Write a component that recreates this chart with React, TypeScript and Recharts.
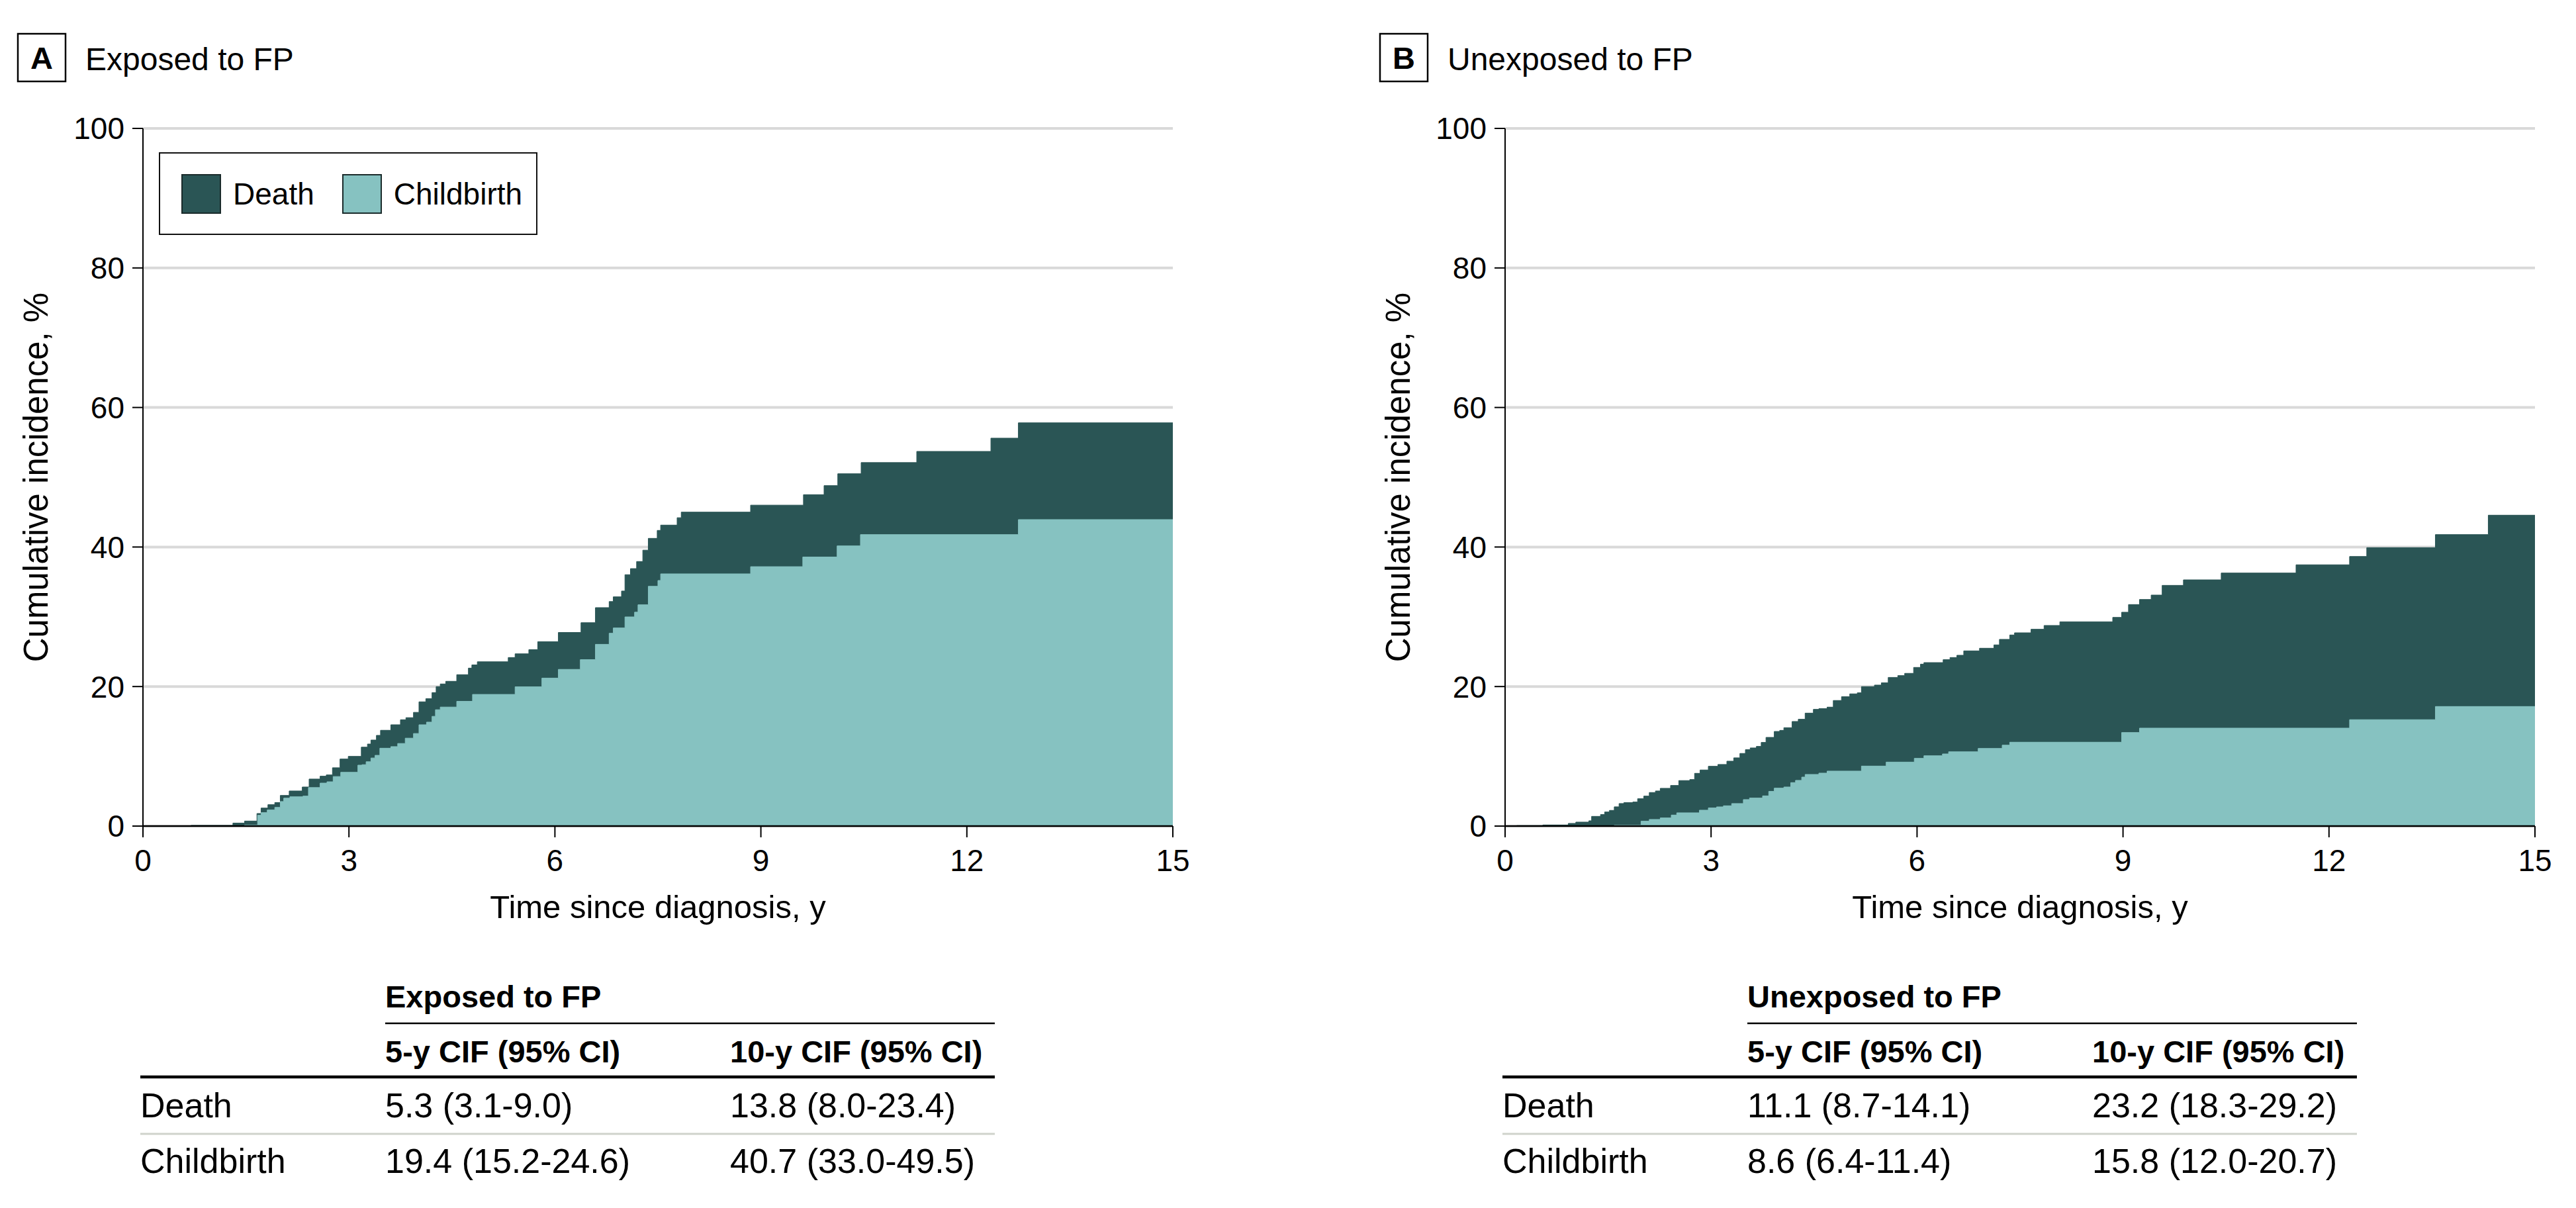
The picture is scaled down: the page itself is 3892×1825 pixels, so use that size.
import { Area, CartesianGrid, ComposedChart, XAxis, YAxis } from "recharts";

// Stacked cumulative incidence.
// "StackTop" is the upper edge of the dark band (childbirth + death), [years, %].
const exposedStackTop: [number, number][] = [
  [0, 0], [0.7, 0.1], [1.31, 0.43], [1.48, 0.72], [1.66, 1.8], [1.72, 2.58], [1.82, 3.07], [1.92, 3.37],
  [2.0, 4.39], [2.13, 5.03], [2.32, 5.6], [2.42, 6.74], [2.58, 7.15], [2.67, 7.33], [2.76, 8.36], [2.87, 9.61],
  [2.99, 9.99], [3.18, 11.31], [3.27, 11.76], [3.32, 12.33], [3.4, 13.0], [3.46, 13.73], [3.61, 14.52],
  [3.75, 15.24], [3.83, 15.54], [3.94, 16.3], [4.02, 17.81], [4.12, 18.26], [4.21, 19.13], [4.27, 19.99],
  [4.33, 20.37], [4.41, 20.75], [4.57, 21.7], [4.74, 22.64], [4.79, 23.1], [4.87, 23.55], [5.32, 24.16],
  [5.42, 24.69], [5.62, 25.29], [5.75, 26.43], [6.05, 27.75], [6.38, 29.15], [6.59, 31.31], [6.79, 32.18],
  [6.85, 32.86], [6.97, 33.69], [7.02, 36.03], [7.1, 36.9], [7.19, 37.92], [7.28, 39.55], [7.36, 41.24],
  [7.49, 42.38], [7.54, 43.14], [7.78, 44.2], [7.84, 45.0], [8.85, 46.0], [9.62, 47.5], [9.92, 48.8],
  [10.12, 50.5], [10.46, 52.1], [11.27, 53.7], [12.35, 55.6], [12.75, 57.8], [15, 57.8],
];
const exposedChildbirth: [number, number][] = [
  [0, 0], [1.48, 0.15], [1.67, 1.55], [1.72, 1.93], [1.81, 2.31], [1.92, 2.68], [2.0, 3.52], [2.05, 4.0],
  [2.14, 4.2], [2.33, 4.3], [2.41, 5.52], [2.58, 6.16], [2.68, 6.35], [2.77, 7.1], [2.88, 7.71], [3.13, 8.73],
  [3.19, 8.8], [3.25, 9.22], [3.32, 9.76], [3.38, 10.14], [3.45, 11.16], [3.61, 11.39], [3.71, 11.84],
  [3.82, 12.6], [3.94, 13.27], [4.02, 14.52], [4.13, 14.9], [4.21, 15.73], [4.26, 16.68], [4.33, 17.06],
  [4.57, 17.88], [4.8, 18.87], [5.42, 19.96], [5.81, 21.21], [6.05, 22.46], [6.37, 23.86], [6.59, 26.05],
  [6.79, 27.64], [6.85, 28.4], [7.02, 29.98], [7.16, 30.66], [7.21, 31.72], [7.36, 34.37], [7.5, 35.2],
  [7.54, 36.15], [8.85, 37.18], [9.61, 38.57], [10.11, 40.16], [10.45, 41.78], [12.75, 43.93], [15, 43.93],
];
const unexposedStackTop: [number, number][] = [
  [0, 0], [0.17, 0.07], [0.55, 0.16], [0.92, 0.38], [1.03, 0.57], [1.22, 0.76], [1.26, 1.39], [1.39, 1.65],
  [1.45, 2.02], [1.52, 2.25], [1.59, 2.76], [1.66, 3.23], [1.73, 3.36], [1.86, 3.45], [1.93, 3.92], [2.02, 4.3],
  [2.1, 4.81], [2.19, 5.03], [2.26, 5.41], [2.41, 5.82], [2.53, 6.52], [2.69, 6.67], [2.76, 7.56], [2.84, 8.04],
  [2.96, 8.57], [3.1, 8.83], [3.23, 9.3], [3.33, 9.78], [3.42, 10.41], [3.5, 10.95], [3.57, 11.2], [3.66, 11.42],
  [3.73, 11.99], [3.8, 12.71], [3.92, 13.56], [4.0, 13.72], [4.06, 14.1], [4.18, 14.99], [4.27, 15.31],
  [4.37, 16.19], [4.49, 16.73], [4.57, 16.83], [4.69, 17.05], [4.78, 18.0], [4.9, 18.54], [5.02, 18.95],
  [5.13, 19.1], [5.19, 19.99], [5.38, 20.21], [5.48, 20.53], [5.58, 21.31], [5.72, 21.57], [5.82, 21.89],
  [5.95, 22.74], [6.05, 23.21], [6.1, 23.43], [6.38, 23.85], [6.48, 24.16], [6.58, 24.48], [6.68, 25.11],
  [6.91, 25.49], [7.12, 25.97], [7.2, 26.76], [7.35, 27.39], [7.42, 27.7], [7.66, 28.21], [7.85, 28.75],
  [8.08, 29.28], [8.85, 29.91], [8.98, 30.65], [9.08, 31.75], [9.24, 32.48], [9.41, 33.11], [9.57, 34.5],
  [9.88, 35.29], [10.43, 36.27], [11.52, 37.45], [12.3, 38.64], [12.55, 39.91], [13.55, 41.78],
  [14.32, 44.56], [15, 44.56],
];
const unexposedChildbirth: [number, number][] = [
  [0, 0], [1.59, 0.13], [1.98, 0.7], [2.1, 0.95], [2.26, 1.17], [2.42, 1.58], [2.5, 1.9], [2.83, 2.28],
  [2.96, 2.6], [3.08, 2.75], [3.18, 2.91], [3.3, 3.23], [3.47, 3.8], [3.56, 4.02], [3.75, 4.33], [3.84, 4.97],
  [3.92, 5.44], [4.06, 5.6], [4.16, 6.23], [4.23, 6.55], [4.32, 7.02], [4.37, 7.4], [4.57, 7.59], [4.69, 7.88],
  [5.19, 8.6], [5.55, 9.17], [5.96, 9.71], [6.1, 10.08], [6.37, 10.34], [6.46, 10.65], [6.89, 11.13],
  [7.24, 11.6], [7.35, 12.02], [8.98, 13.41], [9.24, 14.04], [12.3, 15.25], [13.55, 17.14], [15, 17.14],
];

const timeTicks = [0, 3, 6, 9, 12, 15];
const pctTicks = [0, 20, 40, 60, 80, 100];

const outcomes = ["Death", "Childbirth"];
const cifColumns = ["5-y CIF (95% CI)", "10-y CIF (95% CI)"];
const exposedCif = [
  ["5.3 (3.1-9.0)", "13.8 (8.0-23.4)"],
  ["19.4 (15.2-24.6)", "40.7 (33.0-49.5)"],
];
const unexposedCif = [
  ["11.1 (8.7-14.1)", "23.2 (18.3-29.2)"],
  ["8.6 (6.4-11.4)", "15.8 (12.0-20.7)"],
];

const DEATH_COLOR = "#2a5555";
const BIRTH_COLOR = "#86c2c1";
const FONT = "'Liberation Sans', Arial, sans-serif";
const PANEL_W = 1830;

const toPoints = (pairs: [number, number][]) => pairs.map(([t, v]) => ({ t, v }));

function Legend() {
  const items = [
    { name: outcomes[0], color: DEATH_COLOR },
    { name: outcomes[1], color: BIRTH_COLOR },
  ];
  return (
    <div
      style={{
        position: "absolute",
        left: 240,
        top: 230,
        width: 572,
        height: 125,
        boxSizing: "border-box",
        border: "2px solid #111",
        background: "#fff",
        display: "flex",
        alignItems: "center",
        paddingLeft: 32,
        fontSize: 46,
        color: "#000",
      }}
    >
      {items.map((it) => (
        <div key={it.name} style={{ display: "flex", alignItems: "center", marginRight: 42 }}>
          <span
            style={{
              display: "inline-block",
              width: 60,
              height: 60,
              boxSizing: "border-box",
              background: it.color,
              border: "2px solid #1a2a2a",
              marginRight: 18,
            }}
          />
          <span>{it.name}</span>
        </div>
      ))}
    </div>
  );
}

interface PanelProps {
  left: number;
  letter: string;
  title: string;
  stackTop: [number, number][];
  childbirth: [number, number][];
  cif: string[][];
  showLegend?: boolean;
}

function Panel({ left, letter, title, stackTop, childbirth, cif, showLegend }: PanelProps) {
  return (
    <div style={{ position: "absolute", left, top: 0, width: PANEL_W, height: 1825 }}>
      <ComposedChart width={PANEL_W} height={1450} margin={{ top: 194, right: 58, bottom: 52, left: 20 }}>
        <CartesianGrid vertical={false} stroke="#d9d9d9" strokeWidth={4} />
        <Area
          data={toPoints(stackTop)}
          dataKey="v"
          name="Death"
          type="stepAfter"
          fill={DEATH_COLOR}
          fillOpacity={1}
          stroke={DEATH_COLOR}
          strokeWidth={1}
          dot={false}
          activeDot={false}
          isAnimationActive={false}
        />
        <Area
          data={toPoints(childbirth)}
          dataKey="v"
          name="Childbirth"
          type="stepAfter"
          fill={BIRTH_COLOR}
          fillOpacity={1}
          stroke={BIRTH_COLOR}
          strokeWidth={1}
          dot={false}
          activeDot={false}
          isAnimationActive={false}
        />
        <XAxis
          dataKey="t"
          type="number"
          domain={[0, 15]}
          ticks={timeTicks}
          allowDataOverflow
          height={150}
          tickSize={17}
          tickMargin={18}
          axisLine={{ stroke: "#000", strokeWidth: 2.5 }}
          tickLine={{ stroke: "#000", strokeWidth: 2 }}
          tick={{ fill: "#000", fontSize: 46 }}
          label={{ value: "Time since diagnosis, y", position: "insideBottom", offset: 11, fill: "#000", fontSize: 49 }}
        />
        <YAxis
          type="number"
          domain={[0, 100]}
          ticks={pctTicks}
          width={196}
          tickSize={16}
          tickMargin={12}
          axisLine={{ stroke: "#000", strokeWidth: 2 }}
          tickLine={{ stroke: "#000", strokeWidth: 2 }}
          tick={{ fill: "#000", fontSize: 46 }}
        />
      </ComposedChart>

      <svg
        width={PANEL_W}
        height={1825}
        style={{ position: "absolute", left: 0, top: 0, pointerEvents: "none" }}
        fontFamily={FONT}
      >
        <rect x={27} y={51} width={72} height={72} fill="#fff" stroke="#000" strokeWidth={2.5} />
        <text x={63} y={104} textAnchor="middle" fontSize={47} fontWeight="bold">
          {letter}
        </text>
        <text x={129} y={106} fontSize={48}>
          {title}
        </text>

        <text
          x={54}
          y={721}
          transform="rotate(-90 54 721)"
          textAnchor="middle"
          dominantBaseline="central"
          fontSize={51}
        >
          Cumulative incidence, %
        </text>

        {/* CIF table */}
        <text x={582} y={1522} fontSize={47} fontWeight="bold">
          {title}
        </text>
        <line x1={582} x2={1503} y1={1546} y2={1546} stroke="#000" strokeWidth={2.5} />
        {cifColumns.map((c, i) => (
          <text key={c} x={i === 0 ? 582 : 1103} y={1605} fontSize={47} fontWeight="bold">
            {c}
          </text>
        ))}
        <line x1={212} x2={1503} y1={1627} y2={1627} stroke="#000" strokeWidth={4.5} />
        {outcomes.map((name, r) => (
          <g key={name}>
            <text x={212} y={1688 + r * 84} fontSize={52}>
              {name}
            </text>
            <text x={582} y={1688 + r * 84} fontSize={52}>
              {cif[r][0]}
            </text>
            <text x={1103} y={1688 + r * 84} fontSize={52}>
              {cif[r][1]}
            </text>
          </g>
        ))}
        <line x1={212} x2={1503} y1={1713} y2={1713} stroke="#cfd3cb" strokeWidth={3} />
      </svg>

      {showLegend && <Legend />}
    </div>
  );
}

export default function App() {
  return (
    <div
      style={{
        position: "absolute",
        left: 0,
        top: 0,
        width: 3892,
        height: 1825,
        overflow: "hidden",
        background: "#fff",
        fontFamily: FONT,
      }}
    >
      <Panel
        left={0}
        letter="A"
        title="Exposed to FP"
        stackTop={exposedStackTop}
        childbirth={exposedChildbirth}
        cif={exposedCif}
        showLegend
      />
      <Panel
        left={2058}
        letter="B"
        title="Unexposed to FP"
        stackTop={unexposedStackTop}
        childbirth={unexposedChildbirth}
        cif={unexposedCif}
      />
    </div>
  );
}
